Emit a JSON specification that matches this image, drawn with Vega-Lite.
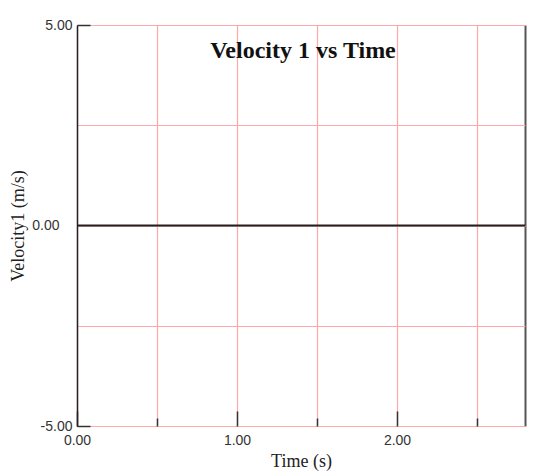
{
  "$schema": "https://vega.github.io/schema/vega-lite/v6.json",
  "width": 448,
  "height": 401,
  "autosize": "none",
  "padding": {"left": 77, "top": 25, "right": 20, "bottom": 47},
  "background": "white",
  "config": {"view": {"stroke": null}},
  "title": {
    "text": "Velocity 1 vs Time",
    "font": "Liberation Serif",
    "fontSize": 24,
    "fontWeight": "bold",
    "color": "#111",
    "anchor": "middle",
    "baseline": "alphabetic",
    "offset": -32,
    "dy": 32,
    "dx": 2
  },
  "data": {"values": [{"t": 0, "v": 0}, {"t": 2.8, "v": 0}]},
  "mark": {"type": "line", "color": "#222", "strokeWidth": 2},
  "encoding": {
    "x": {
      "field": "t",
      "type": "quantitative",
      "scale": {"domain": [0, 2.8], "nice": false, "zero": false},
      "axis": {
        "title": "Time (s)",
        "titleFont": "Liberation Serif",
        "titleFontSize": 18,
        "titleFontWeight": "normal",
        "titleColor": "#222",
        "titlePadding": 5,
        "values": [0, 0.5, 1, 1.5, 2, 2.5, 2.8],
        "labelExpr": "datum.value % 1 === 0 ? format(datum.value, '.2f') : ''",
        "labelFont": "Liberation Sans",
        "labelFontSize": 14,
        "labelColor": "#333",
        "labelPadding": 22,
        "labelFlush": false,
        "domain": false,
        "grid": true,
        "gridColor": {"condition": {"test": "datum.value > 2.7", "value": "#555555"}, "value": "#ffa8a8"},
        "gridWidth": {"condition": {"test": "datum.value > 2.7", "value": 2}, "value": 1.2},
        "gridOpacity": 1,
        "ticks": true,
        "tickColor": "#333",
        "tickWidth": 1.5,
        "tickSize": {"condition": [{"test": "datum.value > 2.7", "value": 0}, {"test": "datum.value % 1 === 0", "value": -15}], "value": -8}
      }
    },
    "y": {
      "field": "v",
      "type": "quantitative",
      "scale": {"domain": [-5, 5], "nice": false},
      "axis": {
        "title": "Velocity1 (m/s)",
        "titleFont": "Liberation Serif",
        "titleFontSize": 18,
        "titleFontWeight": "normal",
        "titleColor": "#222",
        "titlePadding": 4,
        "values": [-5, -2.5, 0, 2.5, 5],
        "labelExpr": "datum.value % 5 === 0 ? replace(format(datum.value, '.2f'), '\u2212', '-') : ''",
        "labelFont": "Liberation Sans",
        "labelFontSize": 14,
        "labelColor": "#333",
        "labelPadding": 18,
        "labelFlush": false,
        "domain": true,
        "domainColor": "#222",
        "domainWidth": 1.5,
        "grid": true,
        "gridColor": "#ffa8a8",
        "gridWidth": 1.2,
        "gridOpacity": 1,
        "ticks": true,
        "tickColor": "#333",
        "tickWidth": 1.5,
        "tickSize": {"condition": {"test": "abs(datum.value) === 5", "value": -13}, "value": 0}
      }
    }
  }
}
